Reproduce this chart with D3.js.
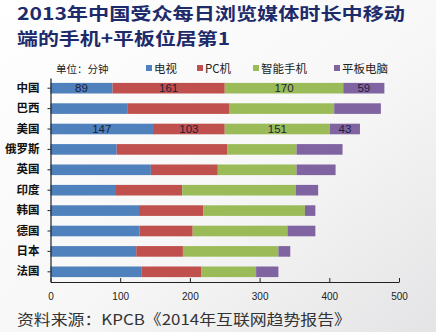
<!DOCTYPE html>
<html><head><meta charset="utf-8">
<script src="https://cdn.jsdelivr.net/npm/d3@7"></script>
<style>
html,body{margin:0;padding:0;}
body{width:436px;height:332px;overflow:hidden;}
</style></head>
<body>
<svg id="chart" width="436" height="332"></svg>
<script>
// Daily media minutes per country, 2013
const countries = ["中国","巴西","美国","俄罗斯","英国","印度","韩国","德国","日本","法国"];
const seriesNames = ["电视","PC机","智能手机","平板电脑"];
const tv     = [89, 111, 147, 95, 144, 94, 127, 128, 123, 131];
const pc     = [161, 146, 103, 159, 96, 95, 92, 76, 67, 85];
const phone  = [170, 150, 151, 99, 113, 163, 146, 136, 137, 79];
const tablet = [59, 67, 43, 66, 56, 32, 15, 40, 17, 32];
const labelled = ["中国","美国"];
const xTicks = [0, 100, 200, 300, 400, 500];
const colors = ["#4f81bd","#c0504d","#9bbb59","#8064a2"];

const svg = d3.select("#chart");
const W = 436, H = 332;

// background wash
const defs = svg.append("defs");
const bg = defs.append("linearGradient").attr("id","bg")
  .attr("x1","0").attr("y1","0").attr("x2","1").attr("y2","1");
bg.append("stop").attr("offset","0%").attr("stop-color","#ffffff");
bg.append("stop").attr("offset","55%").attr("stop-color","#f7f7f7");
bg.append("stop").attr("offset","100%").attr("stop-color","#e4e4e6");
svg.append("rect").attr("width",W).attr("height",H).attr("fill","url(#bg)");

// title (two lines, stretched to the full width)
const titleFont = "'Noto Sans CJK SC', sans-serif";
[["2013年中国受众每日浏览媒体时长中移动", 19.5, 388], ["端的手机+平板位居第1", 45, 213]].forEach(([t, yy, len]) => {
  svg.append("text").attr("x",17).attr("y",yy)
    .attr("font-family",titleFont).attr("font-weight","bold")
    .attr("font-size",17.5).attr("fill","#1d2b6b")
    .attr("textLength",len).attr("lengthAdjust","spacingAndGlyphs")
    .text(t);
});

const x = d3.scaleLinear().domain([0,500]).range([50.5,399]);
const y = d3.scaleBand().domain(countries).range([78,282]).paddingInner(0.48).paddingOuter(0.24);

const rows = countries.map((c,i)=>({country:c, 电视:tv[i], "PC机":pc[i], 智能手机:phone[i], 平板电脑:tablet[i]}));
const stacked = d3.stack().keys(seriesNames)(rows);

const g = svg.append("g");
stacked.forEach((layer,li)=>{
  g.selectAll(null).data(layer).enter().append("rect")
    .attr("x",d=>x(d[0])).attr("width",d=>x(d[1])-x(d[0]))
    .attr("y",d=>y(d.data.country)).attr("height",y.bandwidth())
    .attr("fill",colors[li]);
  g.selectAll(null).data(layer.filter(d=>labelled.includes(d.data.country))).enter().append("text")
    .attr("x",d=>(x(d[0])+x(d[1]))/2).attr("y",d=>y(d.data.country)+y.bandwidth()/2)
    .attr("dy","0.36em").attr("text-anchor","middle")
    .attr("font-family","Arial, 'Liberation Sans', sans-serif").attr("font-size",11.5)
    .attr("fill","#1a1f3a").text(d=>d[1]-d[0]);
});

// x axis
const xAxis = svg.append("g").attr("transform","translate(0,282)")
  .call(d3.axisBottom(x).tickValues(xTicks).tickSize(-4).tickPadding(11).tickSizeOuter(0));
xAxis.select(".domain").attr("stroke","#222").attr("stroke-width",1.2);
xAxis.selectAll(".tick line").attr("stroke","#222");
xAxis.selectAll("text").attr("font-family","Arial, 'Liberation Sans', sans-serif")
  .attr("font-size",10).attr("fill","#222");

// y axis
const yAxis = svg.append("g").attr("transform","translate(50.5,0)")
  .call(d3.axisLeft(y).tickSize(3).tickPadding(8).tickSizeOuter(0));
yAxis.select(".domain").attr("stroke","#222").attr("stroke-width",1.2);
yAxis.selectAll(".tick line").attr("stroke","#222");
yAxis.selectAll("text").attr("font-family","'Noto Sans CJK SC', sans-serif")
  .attr("font-size",11.5).attr("font-weight","bold").attr("fill","#111");

// legend
svg.append("text").attr("x",56).attr("y",73)
  .attr("font-family","'Noto Sans CJK SC', sans-serif").attr("font-size",10.5)
  .attr("fill","#222").text("单位：分钟");
const legendX = [146, 197, 253, 334];
seriesNames.forEach((s,i)=>{
  svg.append("rect").attr("x",legendX[i]).attr("y",65).attr("width",6).attr("height",6).attr("fill",colors[i]);
  svg.append("text").attr("x",legendX[i]+8).attr("y",73)
    .attr("font-family","'Noto Sans CJK SC', sans-serif").attr("font-size",11.5)
    .attr("fill","#222").text(s);
});

// source note
svg.append("text").attr("x",17).attr("y",325)
  .attr("font-family","'Noto Sans CJK SC', sans-serif").attr("font-size",15)
  .attr("fill","#333").attr("textLength",334).attr("lengthAdjust","spacingAndGlyphs")
  .text("资料来源：KPCB《2014年互联网趋势报告》");
</script>
</body></html>
